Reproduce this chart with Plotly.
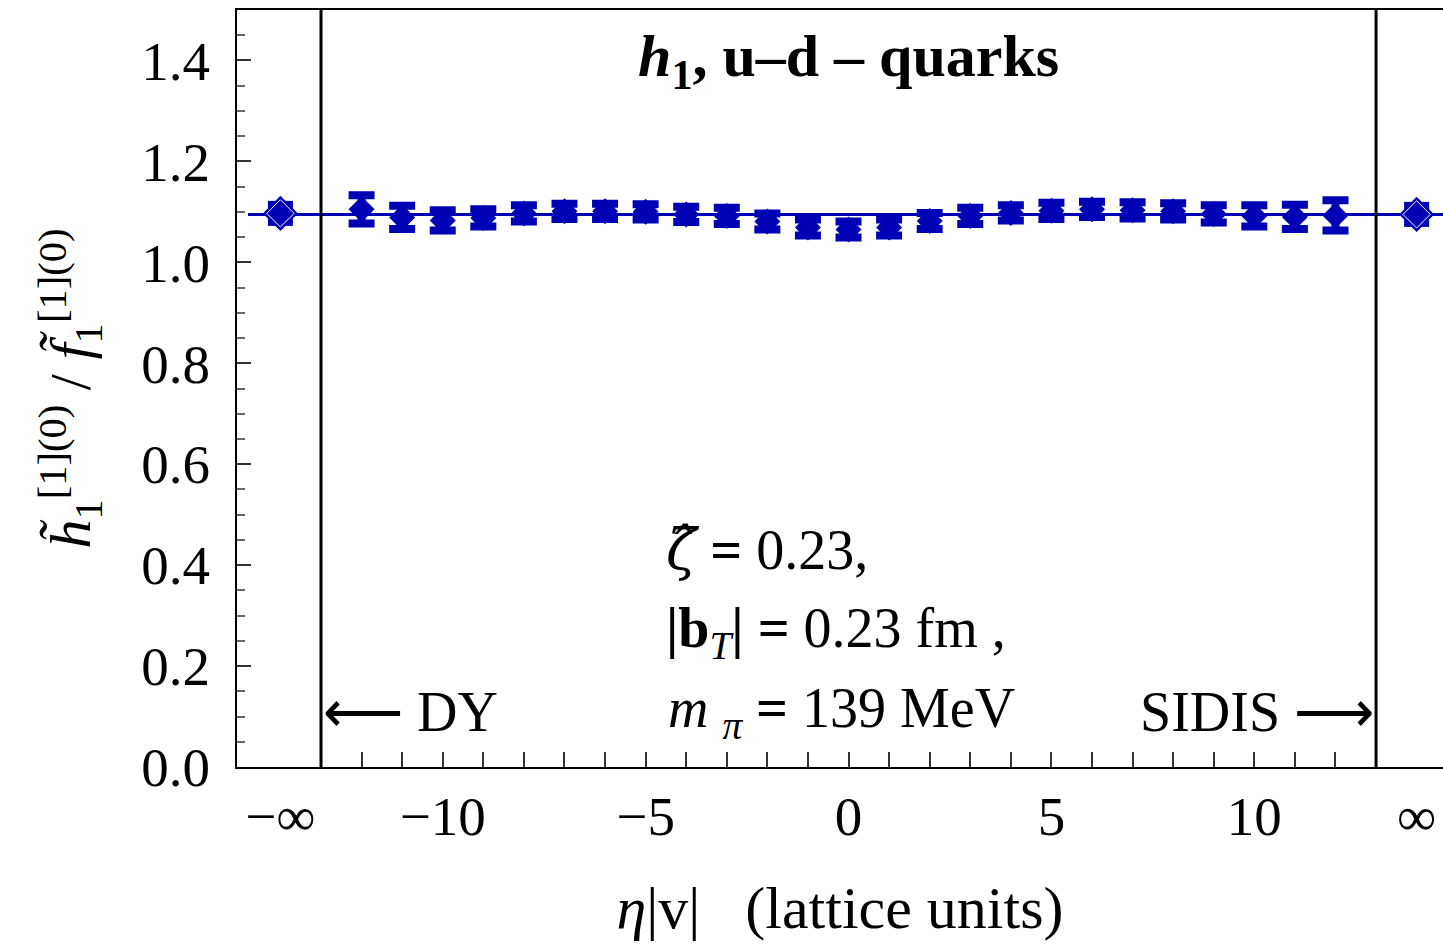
import plotly.graph_objects as go

# ---- data ----
eta_v = [-12, -11, -10, -9, -8, -7, -6, -5, -4, -3, -2, -1, 0, 1, 2, 3, 4, 5, 6, 7, 8, 9, 10, 11, 12]
ratio = [1.105, 1.089, 1.083, 1.088, 1.097, 1.101, 1.101, 1.100, 1.095, 1.092, 1.081, 1.069, 1.065,
         1.069, 1.082, 1.092, 1.098, 1.102, 1.105, 1.103, 1.101, 1.096, 1.092, 1.090, 1.093]
ratio_err = [0.028, 0.023, 0.020, 0.017, 0.016, 0.015, 0.015, 0.015, 0.015, 0.016, 0.016, 0.016, 0.016,
             0.016, 0.016, 0.016, 0.015, 0.016, 0.015, 0.016, 0.016, 0.017, 0.021, 0.024, 0.030]
inf_x = [-14, 14]
inf_ratio = [1.097, 1.095]
fit_value = 1.095
fit_x = [-14.8, 15.5]
boundary_x = [-13, 13]
x_tickvals = [-10, -5, 0, 5, 10]
x_ticktext = ["\u221210", "\u22125", "0", "5", "10"]
inf_tickvals = [-14, 14]
inf_ticktext = ["\u2212\u221e", "\u221e"]
y_tickvals = [0.0, 0.2, 0.4, 0.6, 0.8, 1.0, 1.2, 1.4]

BLUE = "rgb(0,0,180)"
FONT = "Liberation Serif"

fig = go.Figure()

# fit line
fig.add_trace(go.Scatter(x=fit_x, y=[fit_value, fit_value], mode="lines",
                         line=dict(color=BLUE, width=3), showlegend=False, hoverinfo="skip"))

# data points with thick capped error bars
fig.add_trace(go.Scatter(
    x=eta_v, y=ratio, mode="markers",
    marker=dict(symbol="diamond", size=20, color=BLUE, line=dict(width=0)),
    error_y=dict(type="data", array=ratio_err, visible=True, color=BLUE, thickness=8, width=13),
    showlegend=False))

# infinite-eta points
fig.add_trace(go.Scatter(
    x=inf_x, y=inf_ratio, mode="markers",
    marker=dict(symbol="square", size=25, color=BLUE, line=dict(width=0)),
    showlegend=False))
fig.add_trace(go.Scatter(
    x=inf_x, y=inf_ratio, mode="markers",
    marker=dict(symbol="diamond", size=27, color=BLUE, line=dict(width=0)),
    showlegend=False))
fig.add_trace(go.Scatter(
    x=inf_x, y=inf_ratio, mode="markers",
    marker=dict(symbol="diamond-open", size=21, color="white", line=dict(width=1, color="white")),
    showlegend=False))

# invisible trace on secondary x axis carrying the infinity labels
fig.add_trace(go.Scatter(x=inf_x, y=inf_ratio, xaxis="x2", mode="markers",
                         marker=dict(opacity=0), showlegend=False, hoverinfo="skip"))

for bx in boundary_x:
    fig.add_shape(type="line", xref="x", yref="paper", x0=bx, x1=bx, y0=0, y1=1,
                  line=dict(color="black", width=3))

fig.update_layout(
    width=1443, height=947,
    margin=dict(l=237, r=0, t=10, b=180),
    paper_bgcolor="white", plot_bgcolor="white",
    font=dict(family=FONT, size=54, color="black"),
    xaxis=dict(range=[-15.07, 14.65], showline=True, linecolor="black", linewidth=2, mirror=True,
               showgrid=False, zeroline=False,
               tickmode="array", tickvals=x_tickvals, ticktext=x_ticktext,
               ticks="inside", ticklen=15, tickwidth=1.5, tickcolor="#333",
               minor=dict(tickmode="array", tickvals=list(range(-12, 13)), ticks="inside",
                          ticklen=15, tickwidth=1.5, tickcolor="#333"),
               tickfont=dict(family=FONT, size=55),
               ticklabelstandoff=0,
               title=dict(text="<i>\u03b7</i>|v|   (lattice units)", font=dict(family=FONT, size=60),
                          standoff=40)),
    xaxis2=dict(overlaying="x", matches="x", side="bottom", showline=False, showgrid=False,
                zeroline=False, tickmode="array", tickvals=inf_tickvals, ticktext=inf_ticktext,
                ticks="", tickfont=dict(family=FONT, size=55), ticklabelstandoff=12),
    yaxis=dict(range=[0, 1.5], showline=True, linecolor="black", linewidth=2, mirror=False,
               showgrid=False, zeroline=False,
               tickmode="array", tickvals=y_tickvals, tickformat=".1f",
               ticks="inside", ticklen=14, tickwidth=1.5, tickcolor="#333",
               minor=dict(dtick=0.05, tick0=0, ticks="inside", ticklen=8, tickwidth=1.5, tickcolor="#666"),
               tickfont=dict(family=FONT, size=55),
               ticklabelstandoff=14,
               title=dict(text="<i>h\u0303</i><sub>1</sub><sup>[1](0)</sup> / <i>f\u0303</i><sub>1</sub><sup>[1](0)</sup>",
                          font=dict(family=FONT, size=58), standoff=32)),
)

ann_font = dict(family=FONT, size=56, color="black")
fig.add_annotation(x=0, y=1.4, xref="x", yref="y", showarrow=False,
                   text="<b><i>h</i><sub>1</sub>, u\u2013d \u2013 quarks</b>",
                   font=dict(family=FONT, size=60, color="black"))
fig.add_annotation(x=-4.55, y=0.43, xref="x", yref="y", xanchor="left", showarrow=False,
                   text="<span style='font-family:DejaVu Serif'><i>\u03b6\u0302</i></span> <b>=</b> 0.23,",
                   font=ann_font)
fig.add_annotation(x=-4.55, y=0.267, xref="x", yref="y", xanchor="left", showarrow=False,
                   text="<b>|b</b><sub><i>T</i></sub><b>|</b> <b>=</b> 0.23 fm ,", font=ann_font)
fig.add_annotation(x=-4.5, y=0.109, xref="x", yref="y", xanchor="left", showarrow=False,
                   text="<i>m</i> <sub><i>\u03c0</i></sub> <b>=</b> 139 MeV", font=ann_font)
fig.add_annotation(x=-13.0, y=0.109, xref="x", yref="y", xanchor="left", showarrow=False,
                   text="\u27f5 DY", font=ann_font)
fig.add_annotation(x=13.0, y=0.109, xref="x", yref="y", xanchor="right", showarrow=False,
                   text="SIDIS \u27f6", font=ann_font)

fig.write_html("out.html", config={"displayModeBar": False},
               post_script="document.body.style.margin='0';")
